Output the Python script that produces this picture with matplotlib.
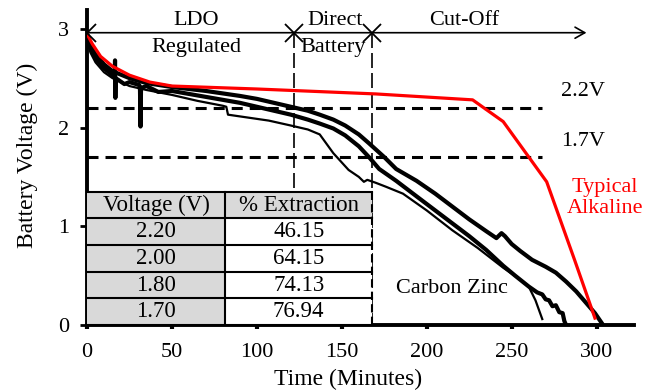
"""Battery discharge curves: carbon zinc cells vs typical alkaline."""

import matplotlib

matplotlib.use("Agg")

import matplotlib.pyplot as plt
from matplotlib.patches import Rectangle

# carbon zinc cell A (thick, longest)
a_t = [0, 2, 5, 10, 15, 25, 35, 50, 70, 90, 100, 110, 120, 130, 137, 145, 152,
       160, 166, 175, 182, 194, 205, 215, 225, 235, 241, 244, 246, 250, 255,
       262, 270, 276, 282, 288, 294, 299, 303]
a_v = [2.95, 2.84, 2.74, 2.64, 2.57, 2.50, 2.45, 2.41, 2.37, 2.32, 2.29, 2.25,
       2.21, 2.17, 2.13, 2.08, 2.02, 1.93, 1.84, 1.70, 1.58, 1.46, 1.33, 1.20,
       1.07, 0.95, 0.88, 0.93, 0.90, 0.82, 0.75, 0.66, 0.59, 0.53, 0.44, 0.34,
       0.22, 0.12, 0.02]

# carbon zinc cell B (thick)
b_t = [0, 2, 5, 10, 15, 16.3, 16.5, 16.7, 16.9, 22, 25, 30.8, 31.2, 31.5, 31.8,
       35, 42, 50, 70, 90, 100, 110, 120, 130, 137, 145, 152, 160, 166, 172,
       182, 195, 205, 215, 225, 235, 245, 252, 260, 265, 268, 270, 272, 274,
       276, 278, 280, 281, 282]
b_v = [2.93, 2.80, 2.70, 2.60, 2.53, 2.52, 2.68, 2.30, 2.50, 2.44, 2.46, 2.43,
       2.38, 2.01, 2.40, 2.42, 2.36, 2.37, 2.31, 2.25, 2.21, 2.17, 2.13, 2.08,
       2.04, 1.99, 1.92, 1.81, 1.70, 1.58, 1.46, 1.29, 1.16, 1.03, 0.90, 0.76,
       0.60, 0.50, 0.39, 0.33, 0.31, 0.26, 0.25, 0.19, 0.20, 0.13, 0.12, 0.04,
       0.0]

# carbon zinc cell C (thin)
c_t = [0, 2, 5, 10, 15, 25, 35, 50, 65, 80, 82, 83, 95, 107, 120, 130, 137,
       145, 154, 160, 163, 165, 170, 176, 186, 200, 215, 230, 245, 255, 260,
       264, 268]
c_v = [2.90, 2.76, 2.66, 2.56, 2.50, 2.42, 2.38, 2.33, 2.27, 2.22, 2.21, 2.13,
       2.10, 2.07, 2.02, 1.98, 1.93, 1.74, 1.57, 1.50, 1.45, 1.47, 1.44, 1.40,
       1.33, 1.16, 0.96, 0.78, 0.58, 0.46, 0.39, 0.25, 0.06]

# typical alkaline
alk_t = [0, 3, 8, 15, 25, 37, 50, 100, 170, 227, 245, 270.6, 287, 299]
alk_v = [2.95, 2.85, 2.72, 2.62, 2.53, 2.46, 2.42, 2.39, 2.34, 2.28, 2.06, 1.45,
         0.66, 0.07]

thresholds = [2.2, 1.7]
threshold_labels = ["2.2V", "1.7V"]
region_edges = [0, 122, 168]

table_header = ["Voltage (V)", "% Extraction"]
table_voltage = ["2.20", "2.00", "1.80", "1.70"]
table_extraction = ["46.15", "64.15", "74.13", "76.94"]


def main() -> None:
    plt.rcParams["font.family"] = ["Liberation Serif", "DejaVu Serif"]
    fig = plt.figure(figsize=(6.6, 3.92), dpi=100)
    ax = fig.add_axes([87 / 660, 67 / 392, 547 / 660, 315 / 392])

    ax.plot(a_t, a_v, color="black", lw=3.0, solid_joinstyle="round")
    ax.plot(b_t, b_v, color="black", lw=3.0, solid_joinstyle="round")
    ax.plot(c_t, c_v, color="black", lw=1.6)
    ax.plot(alk_t, alk_v, color="red", lw=2.3, zorder=4)

    for level, label in zip(thresholds, threshold_labels):
        ax.plot([0, 268], [level, level], color="black", lw=2.2,
                dashes=(3.6, 2.3), zorder=3)
        ax.text(292, level + 0.16, label, ha="center", va="center", fontsize=16)

    # region markers along the top
    top = 2.96
    ax.annotate("", xy=(294, top), xytext=(0, top),
                arrowprops=dict(arrowstyle="->,head_length=0.7,head_width=0.4",
                                lw=1.2, color="black", shrinkA=0, shrinkB=0))
    ax.plot(region_edges, [top] * len(region_edges), "x", color="black",
            ms=13, mew=1.3, zorder=5)
    for x in region_edges[1:]:
        ax.plot([x, x], [top, 0], color="black", lw=1.2, dashes=(9, 3), zorder=3)

    ax.text(64.5, 3.08, "LDO", ha="center", va="center", fontsize=16)
    ax.text(64.5, 2.81, "Regulated", ha="center", va="center", fontsize=16)
    ax.text(146, 3.08, "Direct", ha="center", va="center", fontsize=16)
    ax.text(145, 2.81, "Battery", ha="center", va="center", fontsize=16)
    ax.text(222, 3.08, "Cut-Off", ha="center", va="center", fontsize=16)
    ax.text(305, 1.29, "Typical\nAlkaline", ha="center", va="center",
            fontsize=16, color="red", linespacing=1.15)
    ax.text(214.7, 0.37, "Carbon Zinc", ha="center", va="center", fontsize=16)

    # extraction table in the lower left
    col_x = [0, 81.2, 168]
    row_h = 1.35 / 5
    rows = [table_header] + [list(r) for r in zip(table_voltage, table_extraction)]
    for i, row in enumerate(rows):
        y0 = 1.35 - (i + 1) * row_h
        for j, cell in enumerate(row):
            shade = "#d9d9d9" if (i == 0 or j == 0) else "white"
            ax.add_patch(Rectangle((col_x[j], y0), col_x[j + 1] - col_x[j],
                                   row_h, facecolor=shade, edgecolor="none",
                                   zorder=6))
            ax.text((col_x[j] + col_x[j + 1]) / 2, y0 + row_h / 2, cell,
                    ha="center", va="center", fontsize=16.5, zorder=8)
    for i in range(6):
        y = 1.35 - i * row_h
        ax.plot([0, 168], [y, y], color="black", lw=1.5, zorder=7)
    ax.plot([col_x[1], col_x[1]], [0, 1.35], color="black", lw=1.5, zorder=7)
    ax.plot([168, 168], [0, 1.35], color="black", lw=1.5, dashes=(4, 2), zorder=7)

    ax.set_xlim(0, 322)
    ax.set_ylim(0, 3.19)
    ax.set_xticks(range(0, 301, 50))
    ax.set_yticks([0, 1, 2, 3])
    ax.spines[["top", "right"]].set_visible(False)
    for side in ("left", "bottom"):
        ax.spines[side].set_linewidth(2.8)
    ax.tick_params(axis="x", direction="out", length=3, width=3, pad=10,
                   labelsize=16)
    ax.tick_params(axis="y", direction="out", length=5, width=2, pad=8,
                   labelsize=16)

    ax.set_xlabel("Time (Minutes)", fontsize=17, va="top")
    ax.xaxis.set_label_coords(0.478, -0.14)
    ax.set_ylabel("Battery Voltage (V)", fontsize=17)
    ax.yaxis.set_label_coords(-0.09, 0.537)

    fig.savefig("out.png", dpi=100)


if __name__ == "__main__":
    main()
